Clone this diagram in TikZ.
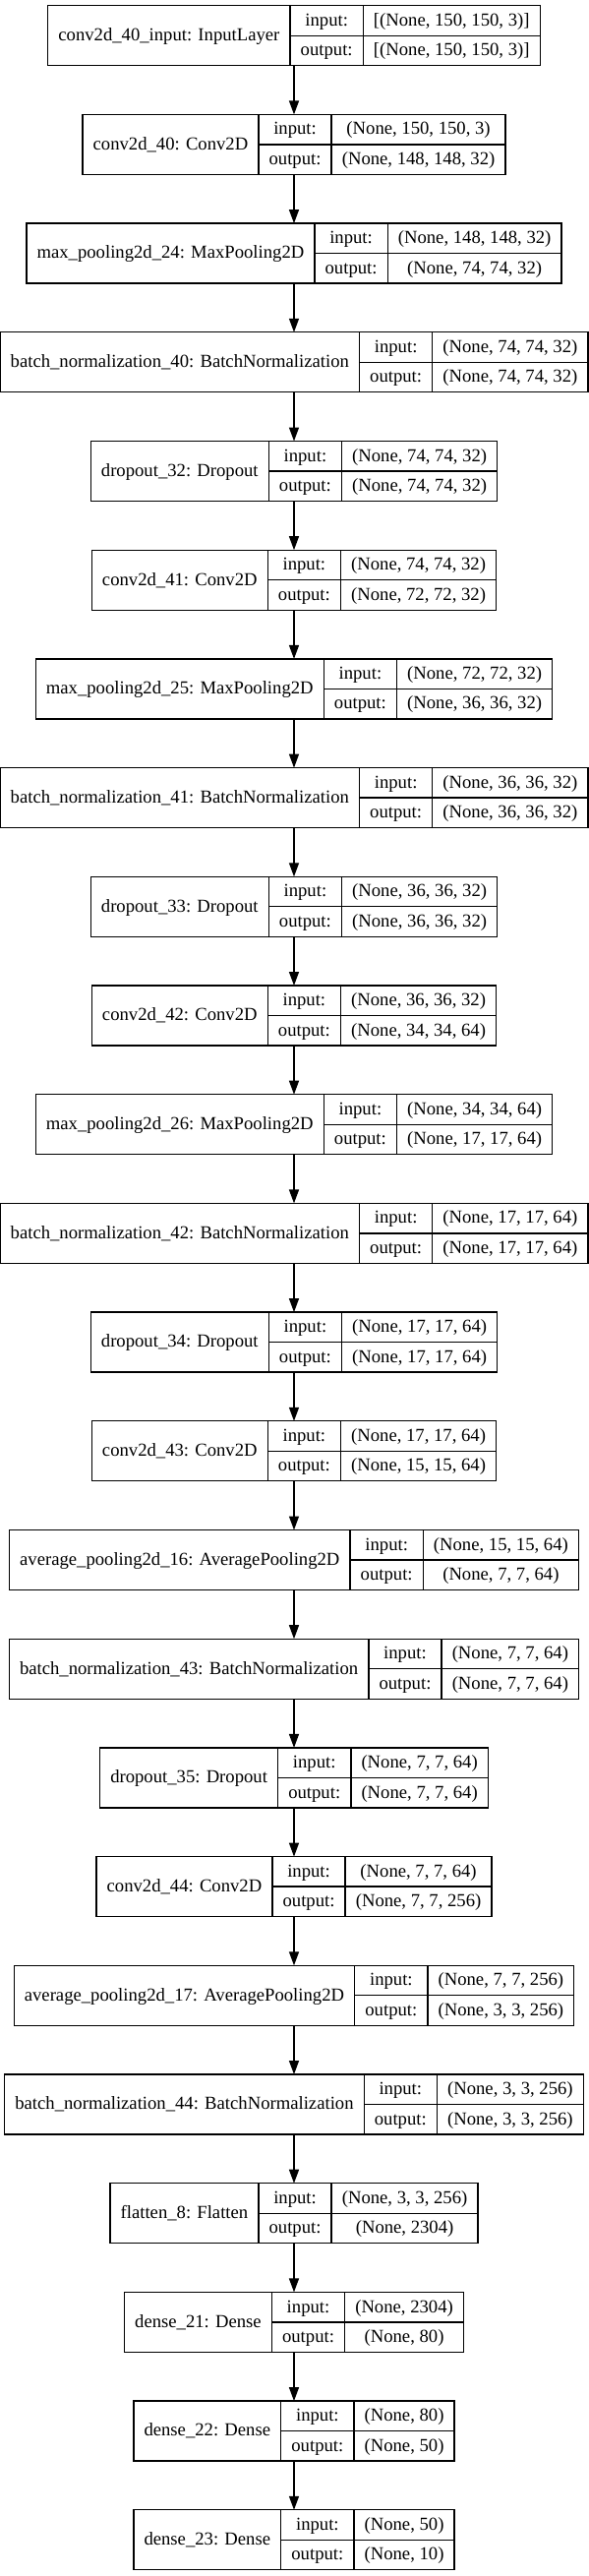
\documentclass[tikz,border=0pt]{standalone}
\usepackage{fontspec}
\setmainfont{Liberation Serif}
\usetikzlibrary{arrows.meta}
\newlength\kwN \newlength\kwI \newlength\kwO \newlength\kwM
\newcommand\kfont{\fontsize{14pt}{16.8pt}\selectfont}
\tikzset{
  kbox/.style={draw, line width=1pt, inner sep=0pt, outer sep=0pt, minimum height=45.75pt},
  ktext/.style={inner sep=0pt, font=\kfont, text height=10pt, text depth=2pt},
  kline/.style={line width=1pt},
  karrow/.style={line width=1pt, -{Triangle[length=10.5pt,width=7.5pt]}},
}
% pass 1: measure text widths (outside the picture)
\newcommand\kmeasure[4]{%
  \settowidth\kwN{\kfont #2}%
  \settowidth\kwI{\kfont #3}%
  \settowidth\kwO{\kfont #4}%
  \ifdim\kwO>\kwI \kwI=\kwO\fi
  \expandafter\xdef\csname kwn#1\endcsname{\the\kwN}%
  \expandafter\xdef\csname kwv#1\endcsname{\the\kwI}%
}
% pass 2: draw
\newcommand\kdraw[4]{%
  \edef\kwNval{\csname kwn#1\endcsname}%
  \edef\kwVval{\csname kwv#1\endcsname}%
  \pgfmathsetmacro\kN{\kwNval+16}%
  \pgfmathsetmacro\kM{\kwMval+16}%
  \pgfmathsetmacro\kV{\kwVval+16}%
  \pgfmathsetmacro\kW{\kN+\kM+\kV}%
  \pgfmathsetmacro\kY{-(4.275+83.025*#1+22.875)}%
  \pgfmathsetmacro\kA{\kN}%
  \pgfmathsetmacro\kB{\kN+\kM}%
  \pgfmathsetmacro\kNc{\kN/2}%
  \pgfmathsetmacro\kMc{\kN+\kM/2}%
  \pgfmathsetmacro\kVc{\kN+\kM+\kV/2}%
  \node[kbox, minimum width=\kW pt] (b#1) at (224.25pt,\kY pt) {};
  \draw[kline] ([xshift=\kA pt]b#1.north west) -- ([xshift=\kA pt]b#1.south west);
  \draw[kline] ([xshift=\kB pt]b#1.north west) -- ([xshift=\kB pt]b#1.south west);
  \draw[kline] ([xshift=\kA pt]b#1.west) -- (b#1.east);
  \node[ktext] (n#1) at ([xshift=\kNc pt]b#1.west) {#2};
  \node[ktext] (i#1) at ([xshift=\kMc pt,yshift=11.4375pt]b#1.west) {input:};
  \node[ktext] (o#1) at ([xshift=\kMc pt,yshift=-11.4375pt]b#1.west) {output:};
  \node[ktext] (vi#1) at ([xshift=\kVc pt,yshift=11.4375pt]b#1.west) {#3};
  \node[ktext] (vo#1) at ([xshift=\kVc pt,yshift=-11.4375pt]b#1.west) {#4};
}
\newcommand\kall{%
\klayer{0}{conv2d\_40\_input: InputLayer}{[(None, 150, 150, 3)]}{[(None, 150, 150, 3)]}%
\klayer{1}{conv2d\_40: Conv2D}{(None, 150, 150, 3)}{(None, 148, 148, 32)}%
\klayer{2}{max\_pooling2d\_24: MaxPooling2D}{(None, 148, 148, 32)}{(None, 74, 74, 32)}%
\klayer{3}{batch\_normalization\_40: BatchNormalization}{(None, 74, 74, 32)}{(None, 74, 74, 32)}%
\klayer{4}{dropout\_32: Dropout}{(None, 74, 74, 32)}{(None, 74, 74, 32)}%
\klayer{5}{conv2d\_41: Conv2D}{(None, 74, 74, 32)}{(None, 72, 72, 32)}%
\klayer{6}{max\_pooling2d\_25: MaxPooling2D}{(None, 72, 72, 32)}{(None, 36, 36, 32)}%
\klayer{7}{batch\_normalization\_41: BatchNormalization}{(None, 36, 36, 32)}{(None, 36, 36, 32)}%
\klayer{8}{dropout\_33: Dropout}{(None, 36, 36, 32)}{(None, 36, 36, 32)}%
\klayer{9}{conv2d\_42: Conv2D}{(None, 36, 36, 32)}{(None, 34, 34, 64)}%
\klayer{10}{max\_pooling2d\_26: MaxPooling2D}{(None, 34, 34, 64)}{(None, 17, 17, 64)}%
\klayer{11}{batch\_normalization\_42: BatchNormalization}{(None, 17, 17, 64)}{(None, 17, 17, 64)}%
\klayer{12}{dropout\_34: Dropout}{(None, 17, 17, 64)}{(None, 17, 17, 64)}%
\klayer{13}{conv2d\_43: Conv2D}{(None, 17, 17, 64)}{(None, 15, 15, 64)}%
\klayer{14}{average\_pooling2d\_16: AveragePooling2D}{(None, 15, 15, 64)}{(None, 7, 7, 64)}%
\klayer{15}{batch\_normalization\_43: BatchNormalization}{(None, 7, 7, 64)}{(None, 7, 7, 64)}%
\klayer{16}{dropout\_35: Dropout}{(None, 7, 7, 64)}{(None, 7, 7, 64)}%
\klayer{17}{conv2d\_44: Conv2D}{(None, 7, 7, 64)}{(None, 7, 7, 256)}%
\klayer{18}{average\_pooling2d\_17: AveragePooling2D}{(None, 7, 7, 256)}{(None, 3, 3, 256)}%
\klayer{19}{batch\_normalization\_44: BatchNormalization}{(None, 3, 3, 256)}{(None, 3, 3, 256)}%
\klayer{20}{flatten\_8: Flatten}{(None, 3, 3, 256)}{(None, 2304)}%
\klayer{21}{dense\_21: Dense}{(None, 2304)}{(None, 80)}%
\klayer{22}{dense\_22: Dense}{(None, 80)}{(None, 50)}%
\klayer{23}{dense\_23: Dense}{(None, 50)}{(None, 10)}%
}
\begin{document}%
\settowidth\kwM{\kfont output:}%
\xdef\kwMval{\the\kwM}%
\let\klayer\kmeasure
\kall
\let\klayer\kdraw
\begin{tikzpicture}
\useasboundingbox (0pt,0pt) rectangle (449.25pt,-1964.25pt);
\kall
\foreach \i [evaluate=\i as \j using int(\i+1)] in {0,...,22}
  \draw[karrow] (b\i.south) -- (b\j.north);
\end{tikzpicture}%
\end{document}
